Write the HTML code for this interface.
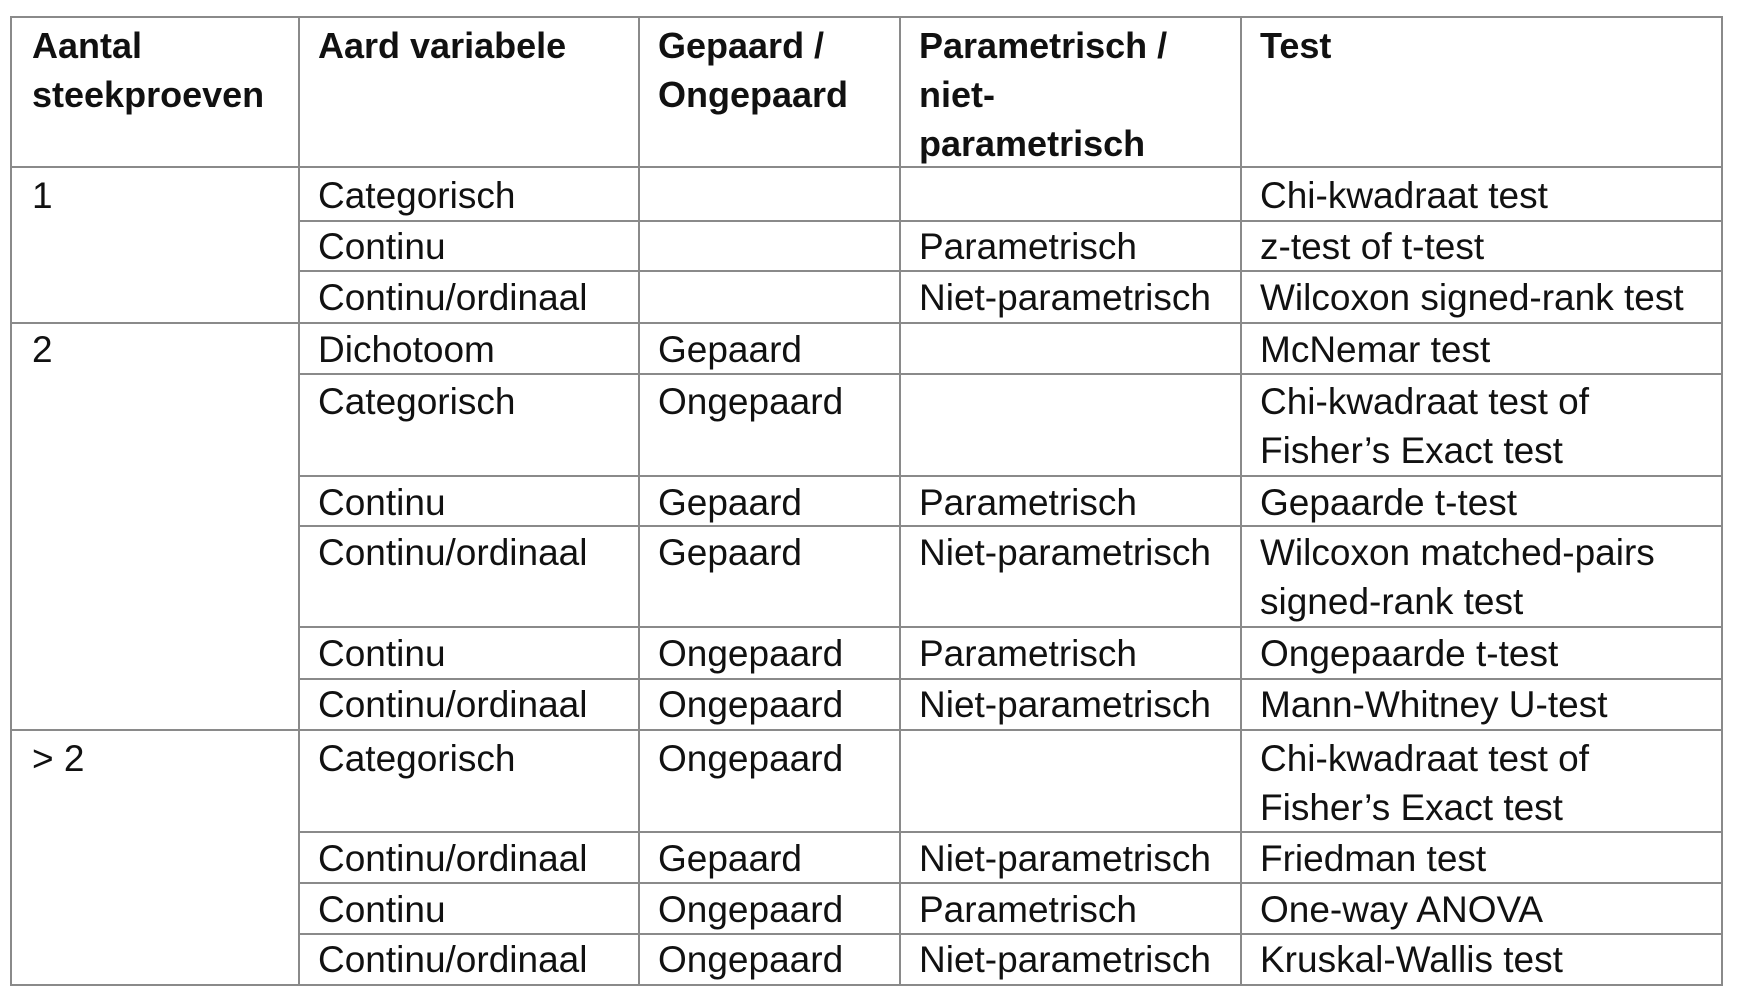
<!DOCTYPE html>
<html><head><meta charset="utf-8"><style>
html,body{margin:0;padding:0;background:#fff;width:1740px;height:1006px;overflow:hidden;position:relative}
.h{position:absolute;height:2px;background:#8a8a8a}
.v{position:absolute;width:2px;background:#8a8a8a}
.t{position:absolute;font-family:"Liberation Sans",Arial,sans-serif;font-size:37px;line-height:49px;color:#111;white-space:nowrap}
.b{font-weight:bold;font-size:36px}
</style></head><body>
<div class="h" style="left:11px;width:1712px;top:16px"></div>
<div class="h" style="left:11px;width:1712px;top:166px"></div>
<div class="h" style="left:11px;width:1712px;top:322px"></div>
<div class="h" style="left:11px;width:1712px;top:729px"></div>
<div class="h" style="left:11px;width:1712px;top:984px"></div>
<div class="h" style="left:299px;width:1424px;top:220px"></div>
<div class="h" style="left:299px;width:1424px;top:270px"></div>
<div class="h" style="left:299px;width:1424px;top:373px"></div>
<div class="h" style="left:299px;width:1424px;top:475px"></div>
<div class="h" style="left:299px;width:1424px;top:525px"></div>
<div class="h" style="left:299px;width:1424px;top:626px"></div>
<div class="h" style="left:299px;width:1424px;top:678px"></div>
<div class="h" style="left:299px;width:1424px;top:831px"></div>
<div class="h" style="left:299px;width:1424px;top:882px"></div>
<div class="h" style="left:299px;width:1424px;top:933px"></div>
<div class="v" style="left:10px;top:16px;height:970px"></div>
<div class="v" style="left:298px;top:16px;height:970px"></div>
<div class="v" style="left:638px;top:16px;height:970px"></div>
<div class="v" style="left:899px;top:16px;height:970px"></div>
<div class="v" style="left:1240px;top:16px;height:970px"></div>
<div class="v" style="left:1721px;top:16px;height:970px"></div>

<div class="t b" style="left:32px;top:21px">Aantal<br>steekproeven</div>
<div class="t b" style="left:318px;top:21px">Aard variabele</div>
<div class="t b" style="left:658px;top:21px">Gepaard /<br>Ongepaard</div>
<div class="t b" style="left:919px;top:21px">Parametrisch /<br>niet-<br>parametrisch</div>
<div class="t b" style="left:1260px;top:21px">Test</div>

<div class="t" style="left:32px;top:171px">1</div>
<div class="t" style="left:318px;top:171px">Categorisch</div>
<div class="t" style="left:1260px;top:171px">Chi-kwadraat test</div>

<div class="t" style="left:318px;top:222px">Continu</div>
<div class="t" style="left:919px;top:222px">Parametrisch</div>
<div class="t" style="left:1260px;top:222px">z-test of t-test</div>

<div class="t" style="left:318px;top:273px">Continu/ordinaal</div>
<div class="t" style="left:919px;top:273px">Niet-parametrisch</div>
<div class="t" style="left:1260px;top:273px">Wilcoxon signed-rank test</div>

<div class="t" style="left:32px;top:325px">2</div>
<div class="t" style="left:318px;top:325px">Dichotoom</div>
<div class="t" style="left:658px;top:325px">Gepaard</div>
<div class="t" style="left:1260px;top:325px">McNemar test</div>

<div class="t" style="left:318px;top:377px">Categorisch</div>
<div class="t" style="left:658px;top:377px">Ongepaard</div>
<div class="t" style="left:1260px;top:377px">Chi-kwadraat test of<br>Fisher’s Exact test</div>

<div class="t" style="left:318px;top:478px">Continu</div>
<div class="t" style="left:658px;top:478px">Gepaard</div>
<div class="t" style="left:919px;top:478px">Parametrisch</div>
<div class="t" style="left:1260px;top:478px">Gepaarde t-test</div>

<div class="t" style="left:318px;top:528px">Continu/ordinaal</div>
<div class="t" style="left:658px;top:528px">Gepaard</div>
<div class="t" style="left:919px;top:528px">Niet-parametrisch</div>
<div class="t" style="left:1260px;top:528px">Wilcoxon matched-pairs<br>signed-rank test</div>

<div class="t" style="left:318px;top:629px">Continu</div>
<div class="t" style="left:658px;top:629px">Ongepaard</div>
<div class="t" style="left:919px;top:629px">Parametrisch</div>
<div class="t" style="left:1260px;top:629px">Ongepaarde t-test</div>

<div class="t" style="left:318px;top:680px">Continu/ordinaal</div>
<div class="t" style="left:658px;top:680px">Ongepaard</div>
<div class="t" style="left:919px;top:680px">Niet-parametrisch</div>
<div class="t" style="left:1260px;top:680px">Mann-Whitney U-test</div>

<div class="t" style="left:32px;top:734px">&gt; 2</div>
<div class="t" style="left:318px;top:734px">Categorisch</div>
<div class="t" style="left:658px;top:734px">Ongepaard</div>
<div class="t" style="left:1260px;top:734px">Chi-kwadraat test of<br>Fisher’s Exact test</div>

<div class="t" style="left:318px;top:834px">Continu/ordinaal</div>
<div class="t" style="left:658px;top:834px">Gepaard</div>
<div class="t" style="left:919px;top:834px">Niet-parametrisch</div>
<div class="t" style="left:1260px;top:834px">Friedman test</div>

<div class="t" style="left:318px;top:885px">Continu</div>
<div class="t" style="left:658px;top:885px">Ongepaard</div>
<div class="t" style="left:919px;top:885px">Parametrisch</div>
<div class="t" style="left:1260px;top:885px">One-way ANOVA</div>

<div class="t" style="left:318px;top:935px">Continu/ordinaal</div>
<div class="t" style="left:658px;top:935px">Ongepaard</div>
<div class="t" style="left:919px;top:935px">Niet-parametrisch</div>
<div class="t" style="left:1260px;top:935px">Kruskal-Wallis test</div>
</body></html>
